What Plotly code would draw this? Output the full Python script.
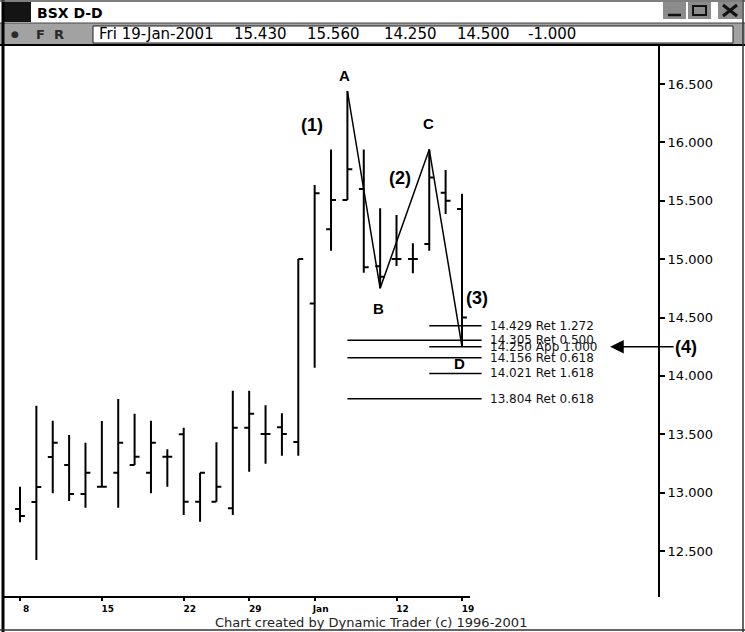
import plotly.graph_objects as go

# ---------------- data ----------------
dates = [
    "2000-12-08", "2000-12-11", "2000-12-12", "2000-12-13", "2000-12-14", "2000-12-15",
    "2000-12-18", "2000-12-19", "2000-12-20", "2000-12-21", "2000-12-22",
    "2000-12-26", "2000-12-27", "2000-12-28", "2000-12-29",
    "2001-01-02", "2001-01-03", "2001-01-04", "2001-01-05",
    "2001-01-08", "2001-01-09", "2001-01-10", "2001-01-11", "2001-01-12",
    "2001-01-16", "2001-01-17", "2001-01-18", "2001-01-19",
]
opens = [12.860, 12.920, 13.305, 13.237, 12.988, 13.050, 13.171, 13.237, 13.171, 13.308,
         13.499, 12.922, 12.922, 12.866, 13.556, 13.502, 13.559, 13.434, 14.620,
         15.255, 15.506, 15.600, 14.940, 15.000, 15.000, 15.130, 15.569, 15.430]
highs = [13.051, 13.745, 13.616, 13.494, 13.428, 13.613, 13.802, 13.676, 13.616, 13.371,
         13.556, 13.171, 13.431, 13.873, 13.873, 13.748, 13.679, 15.000, 15.635,
         15.940, 16.440, 15.940, 15.435, 15.378, 15.135, 15.940, 15.763, 15.560]
lows = [12.746, 12.423, 12.994, 12.928, 12.871, 13.050, 12.871, 13.237, 12.994, 13.051,
        12.808, 12.751, 12.922, 12.808, 13.179, 13.248, 13.316, 13.316, 14.070,
        15.072, 15.506, 14.884, 14.750, 14.941, 14.879, 15.072, 15.387, 14.250]
closes = [12.800, 13.048, 13.428, 12.988, 13.171, 13.050, 13.428, 13.308, 13.428, 13.308,
          12.922, 13.171, 13.051, 13.556, 13.676, 13.502, 13.502, 15.000, 15.564,
          15.506, 15.769, 14.930, 14.850, 15.000, 15.000, 15.700, 15.500, 14.500]

tick_dates = ["2000-12-08", "2000-12-15", "2000-12-22", "2000-12-29", "2001-01-05", "2001-01-12", "2001-01-19"]
tick_labels = ["8", "15", "22", "29", "Jan", "12", "19"]
price_ticks = [12.5, 13.0, 13.5, 14.0, 14.5, 15.0, 15.5, 16.0, 16.5]

pivot_names = ["A", "B", "C", "D"]
pivot_dates = ["2001-01-09", "2001-01-11", "2001-01-17", "2001-01-19"]
pivot_prices = [16.44, 14.75, 15.94, 14.25]

level_prices = [14.429, 14.305, 14.250, 14.156, 14.021, 13.804]
level_labels = ["14.429 Ret 1.272", "14.305 Ret 0.500", "14.250 App 1.000",
                "14.156 Ret 0.618", "14.021 Ret 1.618", "13.804 Ret 0.618"]
level_from = ["C", "A", "C", "A", "C", "A"]

header_title = "BSX D-D"
header_values = ["Fri 19-Jan-2001", "15.430", "15.560", "14.250", "14.500", "-1.000"]
footer_text = "Chart created by Dynamic Trader (c) 1996-2001"

# ---------------- geometry ----------------
W, H = 745, 632
L, R, T, B = 3, 658, 45, 597
xi = list(range(len(dates)))
idx = {d: i for i, d in enumerate(dates)}
pv = {n: (idx[d], p) for n, d, p in zip(pivot_names, pivot_dates, pivot_prices)}
line_end = xi[-1] + 1.2


def px(x):
    return (x - L) / (R - L)


def py(y):
    return (B - y) / (B - T)


SANS = "DejaVu Sans"
BOLD = "Liberation Sans"

fig = go.Figure()

fig.add_trace(go.Ohlc(
    x=xi, open=opens, high=highs, low=lows, close=closes,
    increasing=dict(line=dict(color="black", width=2)),
    decreasing=dict(line=dict(color="black", width=2)),
    tickwidth=0.3, showlegend=False, hoverinfo="skip",
))

# zig-zag A-B-C-D
fig.add_trace(go.Scatter(
    x=[pv[n][0] for n in pivot_names], y=[pv[n][1] for n in pivot_names],
    mode="lines", line=dict(color="black", width=1.5),
    showlegend=False, hoverinfo="skip",
))

# retracement / projection levels
for lv, lab, src in zip(level_prices, level_labels, level_from):
    fig.add_trace(go.Scatter(
        x=[pv[src][0], line_end], y=[lv, lv], mode="lines",
        line=dict(color="black", width=1.5), showlegend=False, hoverinfo="skip",
    ))

annotations = []
for lv, lab in zip(level_prices, level_labels):
    annotations.append(dict(
        x=line_end, y=lv, xref="x", yref="y", text=lab, showarrow=False,
        xanchor="left", yanchor="middle", xshift=6,
        font=dict(family=SANS, size=12, color="#111"),
    ))

# pivot letters
letter_shift = {"A": (-3, 16), "B": (-2, -20), "C": (-1, 26), "D": (-2, -17)}
for n in pivot_names:
    dx, dy = letter_shift[n]
    annotations.append(dict(
        x=pv[n][0], y=pv[n][1], xref="x", yref="y", text="<b>%s</b>" % n,
        showarrow=False, xshift=dx, yshift=dy,
        font=dict(family=BOLD, size=15, color="black"),
    ))

# wave labels
wave = [
    ("(1)", idx["2001-01-05"], pv["A"][1], -3, -34),
    ("(2)", (pv["B"][0] + pv["C"][0]) / 2, (pv["B"][1] + pv["C"][1]) / 2, -5, 41),
    ("(3)", pv["D"][0], pv["D"][1], 15, 49),
]
for t, x, y, dx, dy in wave:
    annotations.append(dict(
        x=x, y=y, xref="x", yref="y", text="<b>%s</b>" % t, showarrow=False,
        xshift=dx, yshift=dy, font=dict(family=BOLD, size=18, color="black"),
    ))

# (4) arrow pointing at the App 1.000 level
annotations.append(dict(
    x=36.05, y=level_prices[2], xref="x", yref="y", text="<b>(4)</b>",
    showarrow=True, ax=76, ay=0, arrowhead=2, arrowsize=1.7, arrowwidth=1.6,
    arrowcolor="black", font=dict(family=BOLD, size=18, color="black"),
))

# window chrome text
annotations.append(dict(
    x=px(35), y=py(13), xref="paper", yref="paper", text="<b>%s</b>" % header_title,
    showarrow=False, xanchor="left", yanchor="middle",
    font=dict(family=SANS, size=14, color="black"),
))
for t, x in [("\u25cf", 15), ("F", 40), ("R", 59)]:
    annotations.append(dict(
        x=px(x), y=py(34), xref="paper", yref="paper", text="<b>%s</b>" % t,
        showarrow=False, xanchor="center", yanchor="middle",
        font=dict(family=SANS, size=13 if t != "\u25cf" else 9, color="#2a2a2a"),
    ))
for t, x in zip(header_values, [97, 232, 305, 382, 455, 526]):
    annotations.append(dict(
        x=px(x), y=py(34.5), xref="paper", yref="paper", text=t,
        showarrow=False, xanchor="left", yanchor="middle",
        font=dict(family=SANS, size=15, color="black"),
    ))
annotations.append(dict(
    x=px(371), y=py(622), xref="paper", yref="paper", text=footer_text,
    showarrow=False, xanchor="center", yanchor="middle",
    font=dict(family=SANS, size=13, color="#222"),
))

shapes = []


def rect(x0, y0, x1, y1, fill, line_color=None, lw=0):
    shapes.append(dict(type="rect", xref="paper", yref="paper",
                       x0=px(x0), x1=px(x1), y0=py(y1), y1=py(y0),
                       fillcolor=fill, line=dict(color=line_color or fill, width=lw),
                       layer="above"))


def seg(x0, y0, x1, y1, color="black", lw=1):
    shapes.append(dict(type="line", xref="paper", yref="paper",
                       x0=px(x0), x1=px(x1), y0=py(y0), y1=py(y1),
                       line=dict(color=color, width=lw), layer="above"))


# toolbar row
rect(0, 23, W, 45, "#a2a2a2")
rect(93, 26, 733, 43, "white", "#202020", 1)
seg(0, 23, W, 23, "#444", 1)
seg(0, 45, W, 45, "black", 2)
# icon
rect(4, 2, 31, 22, "#141414")
# window buttons
for x0, x1 in [(663, 686), (688, 711), (718, 742)]:
    rect(x0, 2, x1, 19, "#8c8c8c")
seg(668, 15, 681, 15, "#111", 2.5)
rect(693, 6, 706, 15, "rgba(0,0,0,0)", "#111", 2)
seg(723, 5, 737, 16, "#111", 3)
seg(723, 16, 737, 5, "#111", 3)
# window border
seg(3, 0, 3, H, "black", 3)
seg(743, 0, 743, H, "#333", 1.5)
seg(0, 1, W, 1, "#555", 1.5)
seg(0, 630, W, 630, "#333", 1.5)
# x-axis baseline (only under the bar panel)
seg(3, 597, 470, 597, "black", 2)

fig.update_layout(
    width=W, height=H,
    margin=dict(l=L, r=W - R, t=T, b=H - B, pad=0),
    paper_bgcolor="white", plot_bgcolor="white",
    showlegend=False, hovermode=False,
    annotations=annotations, shapes=shapes,
    xaxis=dict(
        range=[(L - 20) / 16.37, (R - 20) / 16.37],
        tickmode="array", tickvals=[idx[d] for d in tick_dates],
        ticktext=["<b>%s</b>" % t for t in tick_labels],
        ticks="outside", ticklen=3, tickwidth=1.5, tickcolor="black",
        ticklabelshift=6, ticklabelstandoff=0,
        showline=False, showgrid=False, zeroline=False,
        rangeslider=dict(visible=False), fixedrange=True,
        tickfont=dict(family=SANS, size=9, color="black"),
    ),
    yaxis=dict(
        side="right", range=[12.106, 16.834],
        tickmode="array", tickvals=price_ticks,
        ticktext=["%.3f" % v for v in price_ticks],
        ticks="outside", ticklen=5, tickwidth=1.5, tickcolor="black",
        showline=True, linecolor="black", linewidth=2,
        showgrid=False, zeroline=False, fixedrange=True,
        tickfont=dict(family=SANS, size=13, color="black"),
    ),
)

fig.write_html(
    "out.html",
    config={"displayModeBar": False},
    post_script="document.body.style.margin='0';document.body.style.overflow='hidden';",
)
